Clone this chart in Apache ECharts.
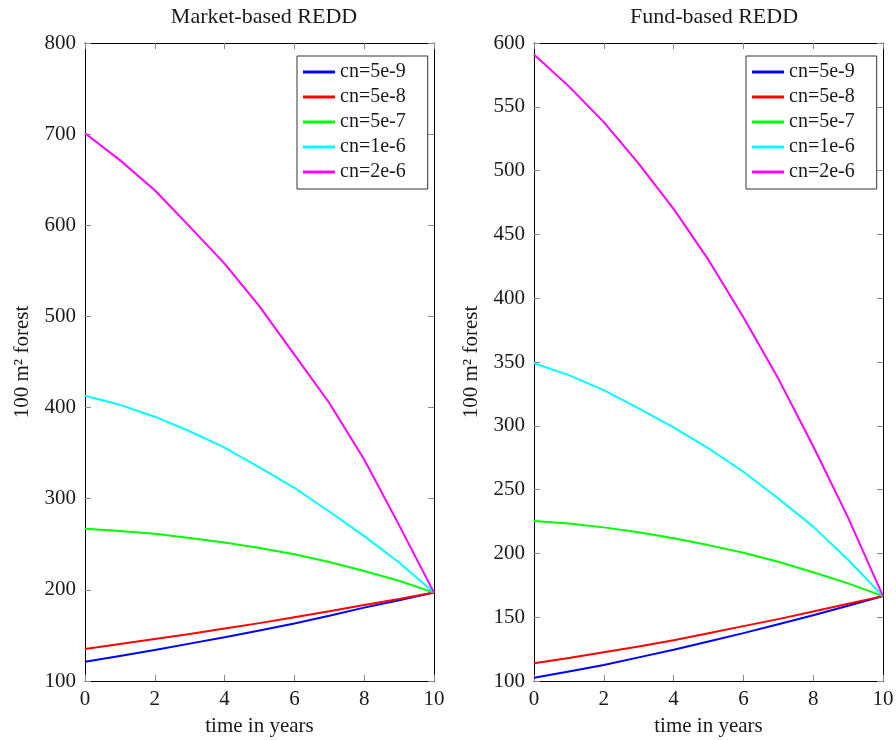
<!DOCTYPE html>
<html>
<head>
<meta charset="utf-8">
<script src="https://cdn.jsdelivr.net/npm/echarts@6/dist/echarts.min.js"></script>
<style>html,body{margin:0;padding:0;background:#fff}#c{width:896px;height:740px}</style>
</head>
<body>
<div id="c"></div>
<script>
const years = [0,1,2,3,4,5,6,7,8,9,10];
const seriesNames = ['cn=5e-9','cn=5e-8','cn=5e-7','cn=1e-6','cn=2e-6'];
const colors = ['#0000ff','#ff0000','#00ff00','#00ffff','#ff00ff'];

// Market-based REDD
const market_5e9 = [121,127.5,134,141,148,155.5,163,171.5,180.5,188.5,197];
const market_5e8 = [135,140.5,146,151.5,157.5,163.5,170,176.5,183.4,190,197];
const market_5e7 = [267,264.5,261.5,257,252,246,239,230.5,220.6,210,197];
const market_1e6 = [413,403,390,374,356,334.5,312,286,259,230,197];
const market_2e6 = [701,671.5,638.5,598.5,558,511,458,405,343,271,197];

// Fund-based REDD
const fund_5e9 = [102.5,107.5,112.5,118.5,124.5,131,137.5,144.5,151.5,159,166.5];
const fund_5e8 = [114,118,122.5,127,132,137.5,143,148.5,154.5,160.5,166.5];
const fund_5e7 = [225.4,223.5,220.4,216.5,211.8,206.5,200.5,193.5,185.2,176.5,166.5];
const fund_1e6 = [349,339.7,328,313.6,298.7,282.3,264,243,221,195,166.5];
const fund_2e6 = [591,566,538,505.5,470,430,385,337,284,228,166.5];

const xTicks = {min:0, max:10, interval:2};
const marketY = {min:100, max:800, interval:100};
const fundY = {min:100, max:600, interval:50};

const marketData = [market_5e9, market_5e8, market_5e7, market_1e6, market_2e6];
const fundData = [fund_5e9, fund_5e8, fund_5e7, fund_1e6, fund_2e6];

const FONT = '"Liberation Serif", "Times New Roman", serif';
const txt = '#1a1a1a';

function xAxes(gi){
  return [
    {gridIndex:gi, type:'value', position:'bottom', min:xTicks.min, max:xTicks.max, interval:xTicks.interval,
     name:'time in years', nameLocation:'middle', nameGap:35,
     nameTextStyle:{fontFamily:FONT, fontSize:21, color:txt},
     axisLine:{show:true, onZero:false, lineStyle:{color:'#000', width:1}},
     axisTick:{show:true, inside:true, length:6, lineStyle:{color:'#888'}},
     axisLabel:{fontFamily:FONT, fontSize:21, color:txt, margin:8},
     splitLine:{show:false}},
    {gridIndex:gi, type:'value', position:'top', min:xTicks.min, max:xTicks.max, interval:xTicks.interval,
     axisLine:{show:true, onZero:false, lineStyle:{color:'#000', width:1}},
     axisTick:{show:true, inside:true, length:6, lineStyle:{color:'#888'}},
     axisLabel:{show:false}, splitLine:{show:false}}
  ];
}
function yAxes(gi, yr){
  return [
    {gridIndex:gi, type:'value', position:'left', min:yr.min, max:yr.max, interval:yr.interval,
     name:'100 m² forest', nameLocation:'middle', nameGap:52, nameRotate:90,
     nameTextStyle:{fontFamily:FONT, fontSize:21, color:txt},
     axisLine:{show:true, onZero:false, lineStyle:{color:'#000', width:1}},
     axisTick:{show:true, inside:true, length:6, lineStyle:{color:'#888'}},
     axisLabel:{fontFamily:FONT, fontSize:21, color:txt, margin:9},
     splitLine:{show:false}},
    {gridIndex:gi, type:'value', position:'right', min:yr.min, max:yr.max, interval:yr.interval,
     axisLine:{show:true, onZero:false, lineStyle:{color:'#000', width:1}},
     axisTick:{show:true, inside:true, length:6, lineStyle:{color:'#888'}},
     axisLabel:{show:false}, splitLine:{show:false}}
  ];
}

function makeSeries(dataArr, xi, yi){
  return dataArr.map((vals, k) => ({
    name: seriesNames[k], type:'line', xAxisIndex:xi, yAxisIndex:yi,
    data: years.map((y, i) => [y, vals[i]]),
    symbol:'none', smooth:false, animation:false,
    lineStyle:{color:colors[k], width:2}, itemStyle:{color:colors[k]}, z:3
  }));
}

function legendAt(left){
  return {
    data: seriesNames, orient:'vertical', left:left, top:56,
    backgroundColor:'#fff', borderColor:'#333', borderWidth:1,
    padding:[6,22,7,6], itemGap:5, itemWidth:32, itemHeight:3, icon:'rect',
    selectedMode:false,
    textStyle:{fontFamily:FONT, fontSize:20, color:txt, lineHeight:20}
  };
}

const chart = echarts.init(document.getElementById('c'), null, {renderer:'canvas'});
chart.setOption({
  animation:false,
  backgroundColor:'#fff',
  title:[
    {text:'Market-based REDD', left:259, top:1, textAlign:'center', textStyle:{fontFamily:FONT, fontSize:22, fontWeight:'normal', color:txt}},
    {text:'Fund-based REDD', left:709, top:1, textAlign:'center', textStyle:{fontFamily:FONT, fontSize:22, fontWeight:'normal', color:txt}}
  ],
  grid:[
    {left:85, top:43, width:349, height:638, containLabel:false, outerBoundsMode:'none'},
    {left:534, top:43, width:349, height:638, containLabel:false, outerBoundsMode:'none'}
  ],
  xAxis:[...xAxes(0), ...xAxes(1)],
  yAxis:[...yAxes(0, marketY), ...yAxes(1, fundY)],
  legend:[legendAt(297), legendAt(746)],
  series:[...makeSeries(marketData, 0, 0), ...makeSeries(fundData, 2, 2)]
});
</script>
</body>
</html>
